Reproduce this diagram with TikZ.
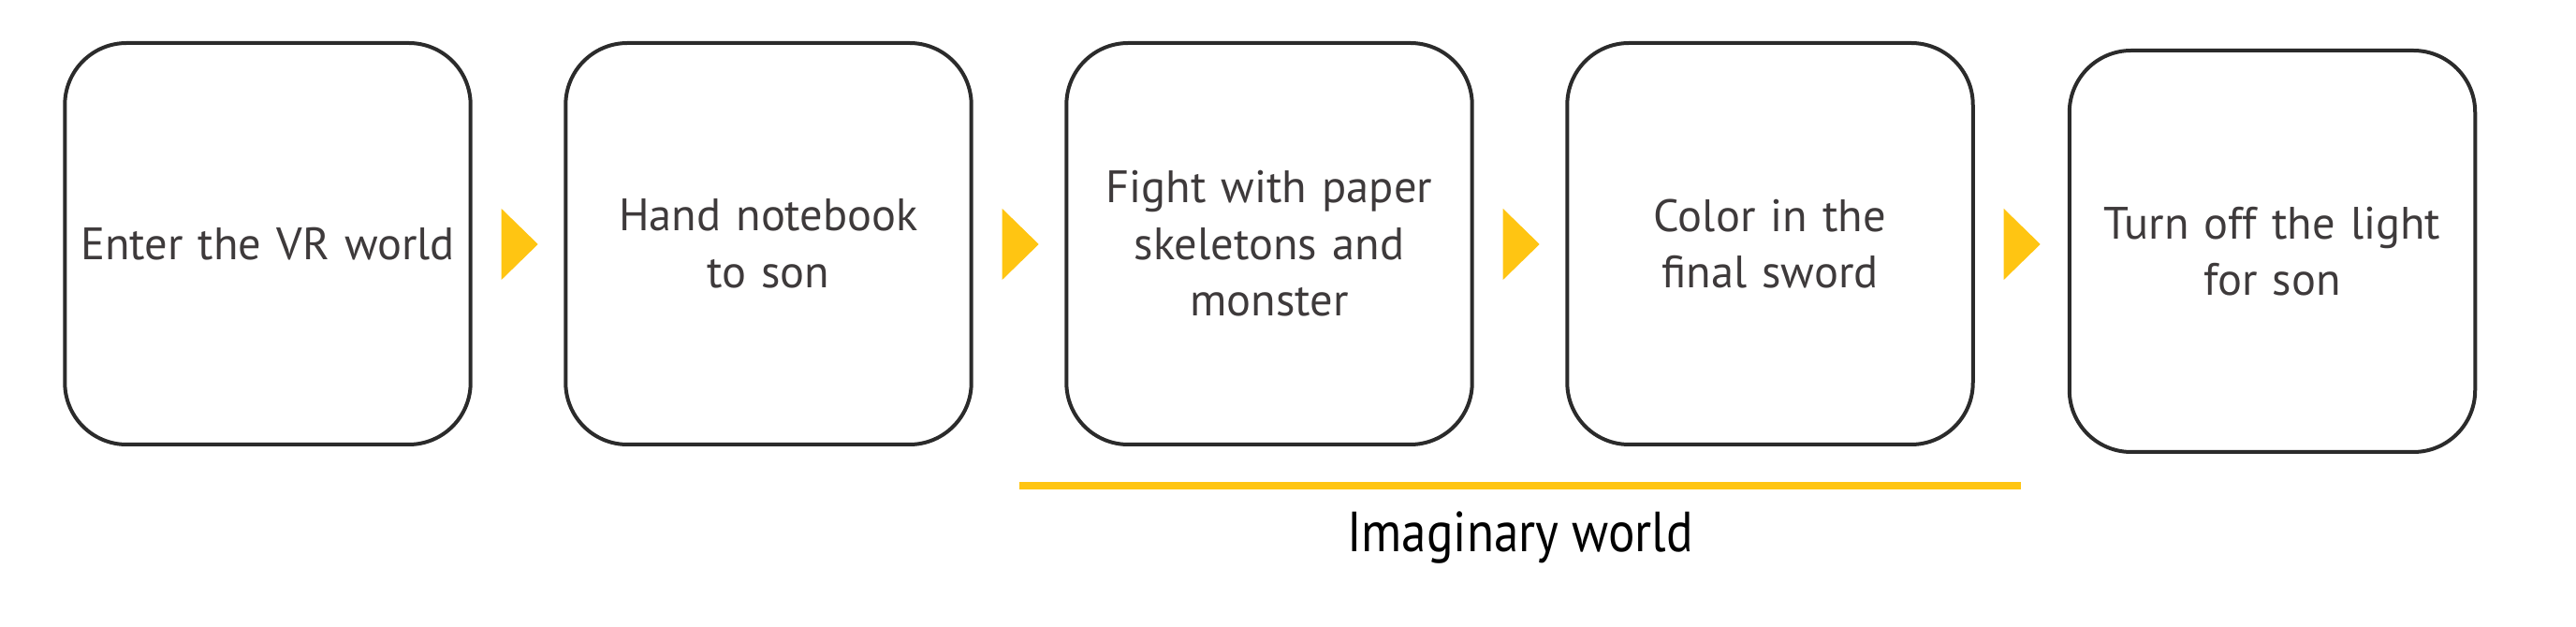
\documentclass[tikz,border=0pt]{standalone}
\usepackage{fontspec}
\setmainfont{PT Sans}
\newfontfamily\narrowfont[FakeStretch=0.88]{PT Sans}
\usetikzlibrary{shapes.geometric}
\definecolor{stepline}{HTML}{2B2B2B}
\definecolor{steptext}{HTML}{3E3A3B}
\definecolor{worldyellow}{HTML}{FFC512}

\begin{document}
\begin{tikzpicture}
		
		\useasboundingbox (0,0) rectangle (27.52,6.70);
		
		\tikzset{stepbox/.style = {shape=rectangle,draw=stepline,line width=0.04cm,rounded corners=0.66cm,
				minimum width=4.28cm,minimum height=4.29cm,text width=4.1cm,align=center,
				font=\fontsize{13.8}{17.2}\selectfont,text=steptext}}
		\tikzset{pointer/.style = {shape=isosceles triangle,fill=worldyellow,inner sep=0pt,anchor=west,
				isosceles triangle stretches,minimum height=0.39cm,minimum width=0.76cm}}
		
		
		\node[stepbox] (B1) at  (2.86,4.095) {Enter the VR world};
		\node[stepbox] (B2) at  (8.21,4.095) {Hand notebook\\to son};
		\node[stepbox] (B3) at  (13.56,4.095) {Fight with paper\\skeletons and\\monster};
		\node[stepbox] (B4) at  (18.91,4.095) {Color in the\\final sword};
		\node[stepbox] (B5) at  (24.275,4.015) {Turn off the light\\for son};
		
		\node[pointer] (P1) at  (5.35,4.09) {};
		\node[pointer] (P2) at  (10.70,4.09) {};
		\node[pointer] (P3) at  (16.05,4.09) {};
		\node[pointer] (P4) at  (21.40,4.09) {};
		
		
		
		\coordinate (WL) at (10.89,1.51);
		\coordinate (WR) at (21.59,1.51);
		\draw[worldyellow,line width=0.08cm] (WL) -- (WR);
		\node[anchor=base,font=\narrowfont\fontsize{17.2}{20}\selectfont] (World) at (16.24,0.80) {Imaginary world};
		
		\end{tikzpicture}
\end{document}
